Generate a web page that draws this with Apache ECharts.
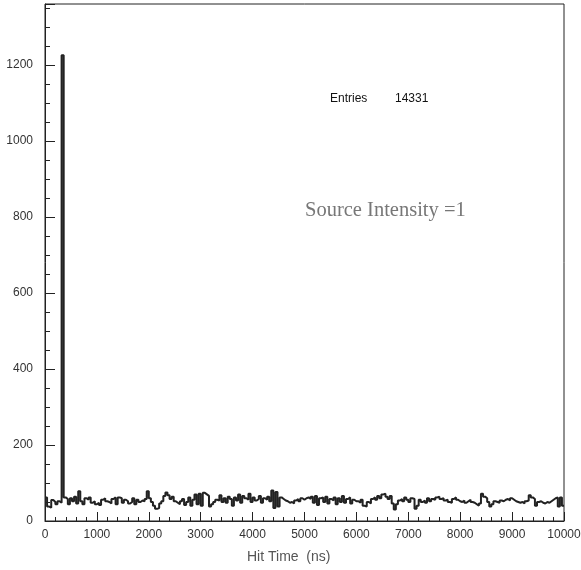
<!DOCTYPE html>
<html>
<head>
<meta charset="utf-8">
<script src="https://cdn.jsdelivr.net/npm/echarts@6/dist/echarts.min.js"></script>
<style>
	html, body { margin: 0; padding: 0; background: #fff; }
	#main { width: 581px; height: 570px; }
</style>
</head>
<body>
<div id="main"></div>
<script>
	// hit time histogram, 250 bins of 40 ns, 0 - 10000 ns
	var binWidth = 40;
	var xMax = 10000;
	var yMax = 1360;
	var entries = 14331;

	// counts per bin, one array per 1000 ns
	var counts0 = [62, 38, 35, 55, 50, 44, 52, 48, 1225, 62, 58, 44, 60, 52, 64, 46, 78, 52, 44, 60, 56, 62, 48, 52, 44];
	var counts1 = [48, 42, 56, 60, 52, 50, 46, 58, 62, 44, 62, 60, 48, 56, 52, 46, 50, 60, 44, 56, 50, 54, 52, 58, 78];
	var counts2 = [60, 50, 40, 32, 34, 46, 52, 66, 75, 68, 58, 64, 52, 48, 44, 52, 58, 42, 50, 62, 40, 56, 70, 44, 72];
	var counts3 = [40, 74, 70, 66, 38, 44, 50, 56, 54, 68, 50, 60, 48, 64, 58, 40, 62, 54, 70, 48, 66, 60, 56, 72, 50];
	var counts4 = [62, 54, 58, 66, 48, 60, 56, 64, 52, 80, 34, 76, 38, 62, 58, 54, 52, 48, 50, 46, 54, 58, 52, 60, 56];
	var counts5 = [60, 62, 58, 64, 48, 66, 42, 60, 62, 50, 64, 46, 58, 54, 62, 44, 60, 50, 66, 48, 58, 62, 46, 56, 52];
	var counts6 = [52, 48, 56, 40, 38, 50, 46, 58, 62, 56, 66, 60, 70, 72, 64, 58, 66, 46, 30, 44, 54, 58, 52, 62, 56];
	var counts7 = [50, 60, 58, 32, 40, 56, 50, 54, 48, 60, 52, 58, 56, 62, 64, 58, 60, 54, 56, 50, 48, 58, 62, 56, 52];
	var counts8 = [50, 54, 48, 52, 56, 50, 48, 44, 40, 46, 72, 64, 60, 50, 38, 44, 52, 50, 48, 54, 52, 56, 58, 54, 60];
	var counts9 = [56, 52, 50, 48, 50, 46, 52, 54, 68, 62, 58, 40, 50, 52, 48, 46, 50, 48, 52, 56, 60, 62, 38, 62, 40];

	var counts = [].concat(counts0, counts1, counts2, counts3, counts4,
		counts5, counts6, counts7, counts8, counts9);

	var yTicks = [0, 200, 400, 600, 800, 1000, 1200];

	// bin left edges, plus closing point at the right edge
	var histData = [];
	for (var i = 0; i < counts.length; i++) {
		histData.push([i * binWidth, counts[i]]);
	}
	histData.push([xMax, counts[counts.length - 1]]);

	var myChart = echarts.init(document.getElementById('main'));

	var option = {
		animation: false,
		backgroundColor: '#fff',
		grid: {
			left: 45,
			right: 17,
			top: 4,
			bottom: 49,
			outerBoundsMode: 'none',
			containLabel: false,
			show: true,
			borderColor: '#222',
			borderWidth: 1
		},
		xAxis: {
			type: 'value',
			min: 0,
			max: xMax,
			interval: 1000,
			axisLine: { lineStyle: { color: '#222', width: 1 } },
			axisTick: { inside: true, length: 9, lineStyle: { color: '#222' } },
			minorTick: { show: true, splitNumber: 5, length: 4, lineStyle: { color: '#222' } },
			axisLabel: {
				color: '#333', fontSize: 12, fontFamily: 'Liberation Sans', margin: 8,
				formatter: function (v) { return String(v); }
			},
			splitLine: { show: false }
		},
		yAxis: {
			type: 'value',
			min: 0,
			max: yMax,
			interval: 200,
			axisLine: { show: true, lineStyle: { color: '#222', width: 1 } },
			axisTick: { inside: true, length: 10, lineStyle: { color: '#222' } },
			minorTick: { show: true, splitNumber: 4, length: 5, lineStyle: { color: '#222' } },
			axisLabel: {
				color: '#333', fontSize: 12, fontFamily: 'Liberation Sans', margin: 12,
				showMaxLabel: false,
				formatter: function (v) {
					return yTicks.indexOf(v) >= 0 ? String(v) : '';
				}
			},
			splitLine: { show: false }
		},
		series: [{
			name: 'hits',
			type: 'line',
			step: 'end',
			data: histData,
			showSymbol: false,
			symbol: 'none',
			lineStyle: { color: '#222', width: 2 }
		}],
		graphic: [
			{
				type: 'text', left: 247, top: 550,
				style: { text: 'Hit Time  (ns)', fill: '#555', font: '14px "Liberation Sans"' }
			},
			{
				type: 'text', left: 330, top: 93,
				style: { text: 'Entries', fill: '#111', font: '12px "Liberation Sans"' }
			},
			{
				type: 'text', left: 395, top: 93,
				style: { text: String(entries), fill: '#111', font: '12px "Liberation Sans"' }
			},
			{
				type: 'text', left: 305, top: 200,
				style: { text: 'Source Intensity =1', fill: '#777', font: '20.5px "Liberation Serif"' }
			}
		]
	};

	myChart.setOption(option);
</script>
</body>
</html>
